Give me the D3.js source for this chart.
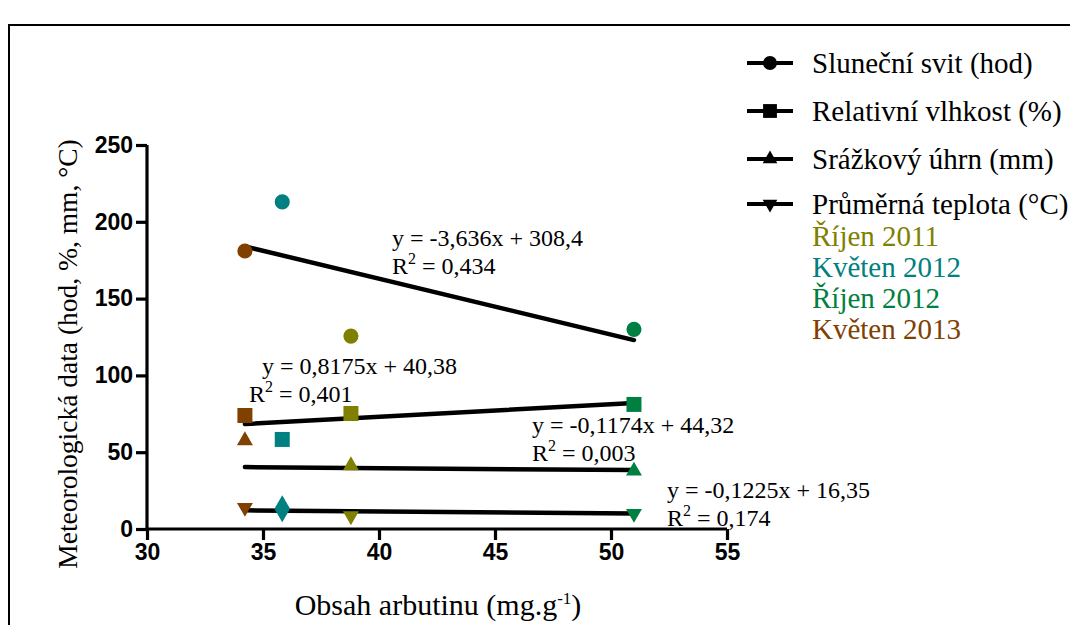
<!DOCTYPE html>
<html>
<head>
<meta charset="utf-8">
<script src="https://cdn.jsdelivr.net/npm/d3@7"></script>
<style>
  html, body { margin: 0; padding: 0; background: #fff; }
  svg { display: block; }
</style>
</head>
<body>
<svg id="chart" width="1070" height="625"></svg>
<script>
// Arbutin content (mg.g-1) per sampling period
const periods = ["Říjen 2011", "Květen 2012", "Říjen 2012", "Květen 2013"];
const periodColors = ["#808000", "#008080", "#008040", "#804000"];
const arbutin = [38.79, 35.83, 50.99, 34.22];

// Meteorological series, one value per period (same order as above)
const seriesNames = ["Sluneční svit (hod)", "Relativní vlhkost (%)", "Srážkový úhrn (mm)", "Průměrná teplota (°C)"];
const sunshine = [125.6, 213.0, 130.0, 181.0];
const humidity = [75.2, 58.3, 81.1, 73.9];
const precipitation = [41.3, 16.0, 37.8, 57.6];
const temperature = [8.5, 10.4, 10.1, 14.0];

// Linear fits: slope, intercept, R²
const fitSlopes = [-3.636, 0.8175, -0.1174, -0.1225];
const fitIntercepts = [308.4, 40.38, 44.32, 16.35];
const fitR2 = ["0,434", "0,401", "0,003", "0,174"];
const fitEquations = ["y = -3,636x + 308,4", "y = 0,8175x + 40,38", "y = -0,1174x + 44,32", "y = -0,1225x + 16,35"];

const xTicks = [30, 35, 40, 45, 50, 55];
const yTicks = [0, 50, 100, 150, 200, 250];

const svg = d3.select("#chart");
const serif = "'Liberation Serif', 'Times New Roman', serif";
const sans = "'Liberation Sans', Arial, sans-serif";

// outer frame
svg.append("rect")
  .attr("x", 9).attr("y", 25).attr("width", 1100).attr("height", 700)
  .attr("fill", "none").attr("stroke", "#000").attr("stroke-width", 2);

const x = d3.scaleLinear().domain([30, 55]).range([147, 727]);
const y = d3.scaleLinear().domain([0, 250]).range([529, 145]);

// axes
const xAxis = svg.append("g").attr("transform", `translate(0,${y(0)})`)
  .call(d3.axisBottom(x).tickValues(xTicks).tickSize(11).tickPadding(4).tickFormat(d3.format("d")));
const yAxis = svg.append("g").attr("transform", `translate(${x(30)},0)`)
  .call(d3.axisLeft(y).tickValues(yTicks).tickSize(11).tickPadding(3).tickFormat(d3.format("d")));
[xAxis, yAxis].forEach(g => {
  g.select(".domain").attr("stroke", "#000").attr("stroke-width", 3.2);
  g.selectAll(".tick line").attr("stroke", "#000").attr("stroke-width", 3.2);
  g.selectAll(".tick text")
    .attr("fill", "#000")
    .style("font-family", sans).style("font-weight", "bold").style("font-size", "23px");
});
xAxis.selectAll(".domain").attr("d", `M${x(30)},0H${x(55)}`);
yAxis.selectAll(".domain").attr("d", `M0,${y(250)}V${y(0)}`);

// axis titles
const xt = svg.append("text")
  .attr("x", 438).attr("y", 615)
  .attr("text-anchor", "middle")
  .style("font-family", serif).style("font-size", "30px").attr("fill", "#000");
xt.append("tspan").text("Obsah arbutinu (mg.g");
xt.append("tspan").attr("dy", -11).style("font-size", "17px").text("-1");
xt.append("tspan").attr("dy", 11).text(")");

svg.append("text")
  .attr("transform", "translate(77,354) rotate(-90)")
  .attr("text-anchor", "middle")
  .style("font-family", serif).style("font-size", "27.5px").attr("fill", "#000")
  .text("Meteorologická data (hod, %, mm, °C)");

// marker shapes per series
const symbolDefs = [
  { type: d3.symbolCircle, size: 180, rot: 0 },
  { type: d3.symbolSquare, size: 225, rot: 0 },
  { type: d3.symbolTriangle, size: 110, rot: 0 },
  { type: d3.symbolTriangle, size: 110, rot: 180 }
];
const allSeries = [sunshine, humidity, precipitation, temperature];

// regression lines over the observed arbutin range
const xMin = d3.min(arbutin), xMax = d3.max(arbutin);
allSeries.forEach((vals, i) => {
  const f = v => fitSlopes[i] * v + fitIntercepts[i];
  svg.append("line")
    .attr("x1", x(xMin)).attr("y1", y(f(xMin)))
    .attr("x2", x(xMax)).attr("y2", y(f(xMax)))
    .attr("stroke", "#000").attr("stroke-width", 4.5).attr("stroke-linecap", "round");
});

// data markers
allSeries.forEach((vals, i) => {
  const s = symbolDefs[i];
  const path = d3.symbol().type(s.type).size(s.size)();
  svg.append("g").selectAll("path")
    .data(vals.map((v, j) => ({ v, j })))
    .join("path")
    .attr("d", path)
    .attr("transform", d => `translate(${x(arbutin[d.j])},${y(d.v)}) rotate(${s.rot})`)
    .attr("fill", d => periodColors[d.j]);
});

// fit annotations
const annPos = [[392, 246], [262, 374], [532, 433], [667, 498]];
const r2Pos = [[392, 274], [249, 402], [532, 461], [667, 526]];
fitEquations.forEach((eq, i) => {
  svg.append("text")
    .attr("x", annPos[i][0]).attr("y", annPos[i][1])
    .style("font-family", serif).style("font-size", "24px").attr("fill", "#000")
    .text(eq);
  const r = svg.append("text")
    .attr("x", r2Pos[i][0]).attr("y", r2Pos[i][1])
    .style("font-family", serif).style("font-size", "24px").attr("fill", "#000");
  r.append("tspan").text("R");
  r.append("tspan").attr("dy", -10).style("font-size", "16px").text("2");
  r.append("tspan").attr("dy", 10).text(" = " + fitR2[i]);
});

// legend
const legendRows = [63, 111, 159, 204];
seriesNames.forEach((name, i) => {
  const ly = legendRows[i];
  svg.append("line").attr("x1", 747).attr("x2", 793).attr("y1", ly).attr("y2", ly)
    .attr("stroke", "#000").attr("stroke-width", 4);
  const s = symbolDefs[i];
  svg.append("path").attr("d", d3.symbol().type(s.type).size(s.size * 0.85)())
    .attr("transform", `translate(770,${ly}) rotate(${s.rot})`).attr("fill", "#000");
  svg.append("text").attr("x", 812).attr("y", ly).attr("dy", "0.35em")
    .style("font-family", serif).style("font-size", "29px").attr("fill", "#000")
    .text(name);
});
const periodRows = [236, 267, 298, 329];
periods.forEach((p, i) => {
  svg.append("text").attr("x", 812).attr("y", periodRows[i]).attr("dy", "0.35em")
    .style("font-family", serif).style("font-size", "29px").attr("fill", periodColors[i])
    .text(p);
});
</script>
</body>
</html>
